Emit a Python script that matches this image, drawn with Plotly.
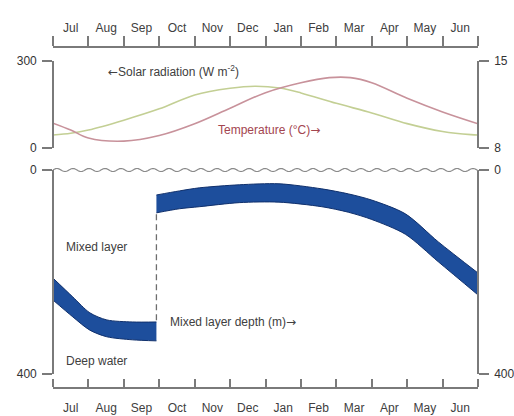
import numpy as np
import plotly.graph_objects as go

# ---------------- data ----------------
months = ["Jul", "Aug", "Sep", "Oct", "Nov", "Dec", "Jan", "Feb", "Mar", "Apr", "May", "Jun"]
month_edges = list(range(13))                      # month boundaries (months since 1 Jul)
month_centers = [i + 0.5 for i in range(12)]

# Solar radiation (W m-2), left axis of top panel
solar_t = [0, 0.5, 1, 2, 3, 4, 5, 5.7, 6.4, 7, 8, 9, 10, 11, 11.8, 12]
solar_w = [45, 51, 62, 96, 135, 183, 206, 213, 207, 190, 154, 121, 84, 57, 46, 45]

# Temperature (deg C), right axis of top panel
temp_t = [0, 0.5, 1, 2, 3, 4, 5, 6, 7, 7.8, 8.4, 9, 10, 11, 12]
temp_c = [10.0, 9.45, 8.8, 8.55, 9.0, 9.95, 11.2, 12.45, 13.25, 13.66, 13.66, 13.25, 12.0, 10.9, 9.95]

# Mixed layer depth band (m): winter segment and restratified segment
seg1_t = [0, 0.56, 1.04, 1.52, 2.25, 2.92]
seg1_top = [212, 249, 280, 294, 298, 298]
seg1_bot = [255, 288, 314, 327, 333, 335]

seg2_t = [2.92, 3.57, 4.13, 5.26, 6.38, 7.59, 8.35, 9.0, 9.95, 10.88, 12]
seg2_top = [49, 41, 35, 29, 27, 37, 47, 59, 86, 141, 202]
seg2_bot = [84, 76, 72, 64, 63, 72, 83, 97, 126, 180, 245]

solar_range = [0, 300]
temp_range = [8, 15]
depth_range = [400, 0]

# ---------------- style ----------------
FONT = "Liberation Sans, Arial, sans-serif"
AX = "#7a7a7a"
TXT = "#404040"
BAND = "#1d4e9c"
EDGE = "#10306c"

W, H = 514, 416
ML, MR, MT, MB = 53, 36, 47, 28
plot_h = H - MT - MB
plot_w = W - ML - MR


def pfrac(ypix):
    return (H - MB - ypix) / plot_h


top_dom = [pfrac(148), pfrac(61)]
bot_dom = [pfrac(374), pfrac(170)]

fig = go.Figure()

fig.add_trace(go.Scatter(x=solar_t, y=solar_w, xaxis="x", yaxis="y", mode="lines",
                         line=dict(color="#c3cf94", width=1.6, shape="spline", smoothing=0.9),
                         hoverinfo="skip", showlegend=False))
fig.add_trace(go.Scatter(x=temp_t, y=temp_c, xaxis="x", yaxis="y2", mode="lines",
                         line=dict(color="#c8929b", width=1.6, shape="spline", smoothing=1.0),
                         hoverinfo="skip", showlegend=False))

for t, top, bot in [(seg1_t, seg1_top, seg1_bot), (seg2_t, seg2_top, seg2_bot)]:
    fig.add_trace(go.Scatter(x=t, y=top, xaxis="x2", yaxis="y3", mode="lines",
                             line=dict(color=EDGE, width=1, shape="spline", smoothing=0.8),
                             hoverinfo="skip", showlegend=False))
    fig.add_trace(go.Scatter(x=t, y=bot, xaxis="x2", yaxis="y3", mode="lines",
                             line=dict(color=EDGE, width=1, shape="spline", smoothing=0.8),
                             fill="tonexty", fillcolor=BAND,
                             hoverinfo="skip", showlegend=False))

# dashed jump line between the two segments
fig.add_trace(go.Scatter(x=[seg2_t[0], seg2_t[0]], y=[seg2_bot[0] + 3, seg1_top[-1]],
                         xaxis="x2", yaxis="y3", mode="lines",
                         line=dict(color="#6e6e6e", width=1.3, dash="6px,4px"),
                         hoverinfo="skip", showlegend=False))

# invisible trace to activate the right-hand depth axis
fig.add_trace(go.Scatter(x=seg2_t, y=seg2_top, xaxis="x2", yaxis="y4", mode="lines",
                         line=dict(width=0, color="rgba(0,0,0,0)"),
                         hoverinfo="skip", showlegend=False))

common_x = dict(range=[0, 12], tickmode="array", tickvals=month_centers, ticktext=months,
                ticks="outside", ticklen=9, tickcolor="rgba(0,0,0,0)",
                showline=True, linecolor=AX, linewidth=1.6, showgrid=False, zeroline=False,
                tickfont=dict(family=FONT, size=12, color=TXT), anchor="free",
                fixedrange=True, automargin=False)

common_y = dict(showline=True, linecolor=AX, linewidth=1.6, ticks="outside", ticklen=10,
                tickwidth=1.6, tickcolor=AX, showgrid=False, zeroline=False,
                tickfont=dict(family=FONT, size=12, color="#333"), anchor="free",
                ticklabelstandoff=3, automargin=False, fixedrange=True)

fig.update_layout(
    width=W, height=H,
    margin=dict(l=ML, r=MR, t=MT, b=MB, autoexpand=False),
    paper_bgcolor="white", plot_bgcolor="white",
    font=dict(family=FONT, size=12, color=TXT),
    xaxis=dict(common_x, side="top", position=1,
               minor=dict(tickmode="array", tickvals=month_edges, ticks="outside",
                          ticklen=10, tickwidth=1.6, tickcolor=AX)),
    xaxis2=dict(common_x, side="bottom", position=0, matches="x",
                minor=dict(tickmode="array", tickvals=month_edges, ticks="inside",
                           ticklen=8, tickwidth=1.6, tickcolor=AX)),
    yaxis=dict(common_y, domain=top_dom, range=solar_range, tickvals=solar_range,
               side="left", position=0),
    yaxis2=dict(common_y, domain=top_dom, range=temp_range, tickvals=temp_range,
                side="right", position=1, overlaying="y"),
    yaxis3=dict(common_y, domain=bot_dom, range=depth_range, tickvals=[0, 400],
                side="left", position=0),
    yaxis4=dict(common_y, domain=bot_dom, range=depth_range, tickvals=[0, 400],
                side="right", position=1, overlaying="y3"),
    showlegend=False,
)

# wavy sea-surface line at depth 0 (decoration)
y0 = bot_dom[1]
period = 16 / plot_w
amp = 1.5 / plot_h
xs = np.linspace(0, 1, 600)
ys = y0 + amp * np.sin(2 * np.pi * xs / period)
path = "M " + " L ".join(f"{x:.5f},{y:.5f}" for x, y in zip(xs, ys))
fig.add_shape(type="path", path=path, xref="paper", yref="paper",
              line=dict(color="#8a8a8a", width=1.2))

ann = dict(showarrow=False, xanchor="left", yanchor="middle",
           font=dict(family=FONT, size=12, color=TXT))
ARROW_FONT = "DejaVu Sans"
fig.add_annotation(ann, x=1.49, y=265, xref="x", yref="y",
                   text=f"<span style='font-family:{ARROW_FONT}'>\u2190</span>Solar radiation (W m<sup>-2</sup>)")
fig.add_annotation(ann, x=4.61, y=9.45, xref="x", yref="y2",
                   text=f"Temperature (\u00b0C)<span style='font-family:{ARROW_FONT}'>\u2192</span>",
                   font=dict(family=FONT, size=12, color="#a3454f"))
fig.add_annotation(ann, x=0.31, y=151, xref="x2", yref="y3", text="Mixed layer")
fig.add_annotation(ann, x=0.31, y=375, xref="x2", yref="y3", text="Deep water")
fig.add_annotation(ann, x=3.26, y=298, xref="x2", yref="y3",
                   text=f"Mixed layer depth (m)<span style='font-family:{ARROW_FONT}'>\u2192</span>")

fig.write_html("out.html")
